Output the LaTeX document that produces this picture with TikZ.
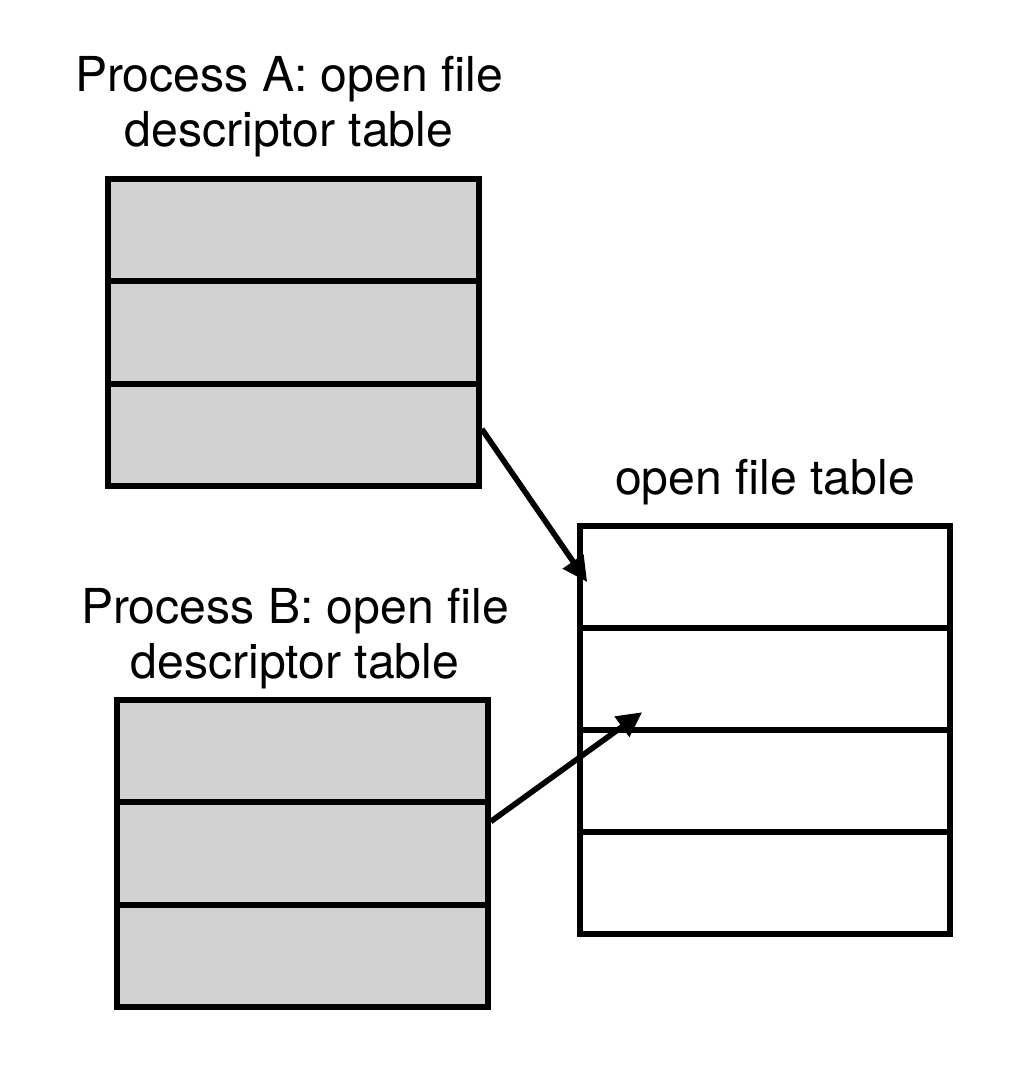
\documentclass[tikz,border=0pt]{standalone}
\usepackage{fontspec}
\setmainfont{TeX Gyre Heros}
\usetikzlibrary{arrows.meta}
\tikzset{
  fdcell/.style={draw, line width=1.6pt, fill=gray!35, minimum width=3.71cm, minimum height=1.025cm, inner sep=0},
  ftcell/.style={draw, line width=1.6pt, fill=white, minimum width=3.70cm, minimum height=1.02cm, inner sep=0},
  lbl/.style={align=center, inner sep=0, font=\fontsize{13.7}{15.6}\selectfont},
  ptr/.style={draw, line width=1.6pt, -{Triangle[length=2.5mm, width=2.4mm]}}
}
\begin{document}
\begin{tikzpicture}
\useasboundingbox (0,0) rectangle (10.12,-10.67);
\node[lbl] (la) at (2.89,-1.07) {Process A: open file\\descriptor table};
\node[fdcell] (a1) at (2.935,-2.30) {};
\node[fdcell] (a2) at (2.935,-3.325) {};
\node[fdcell] (a3) at (2.935,-4.35) {};

\node[lbl] (lb) at (2.95,-6.39) {Process B: open file\\descriptor table};
\node[fdcell] (b1) at (3.025,-7.51) {};
\node[fdcell] (b2) at (3.025,-8.535) {};
\node[fdcell] (b3) at (3.025,-9.56) {};

\node[lbl] (lf) at (7.65,-4.82) {open file table};
\node[ftcell] (f1) at (7.65,-5.77) {};
\node[ftcell] (f2) at (7.65,-6.79) {};
\node[ftcell] (f3) at (7.65,-7.81) {};
\node[ftcell] (f4) at (7.65,-8.83) {};

\path[ptr] ([yshift=0.6mm]a3.east) -- ([shift={(1mm,-0.5mm)}]f1.west);
\path[ptr] ([yshift=3.2mm]b2.east) -- ([shift={(6.5mm,1.5mm)}]f3.north west);
\end{tikzpicture}
\end{document}
